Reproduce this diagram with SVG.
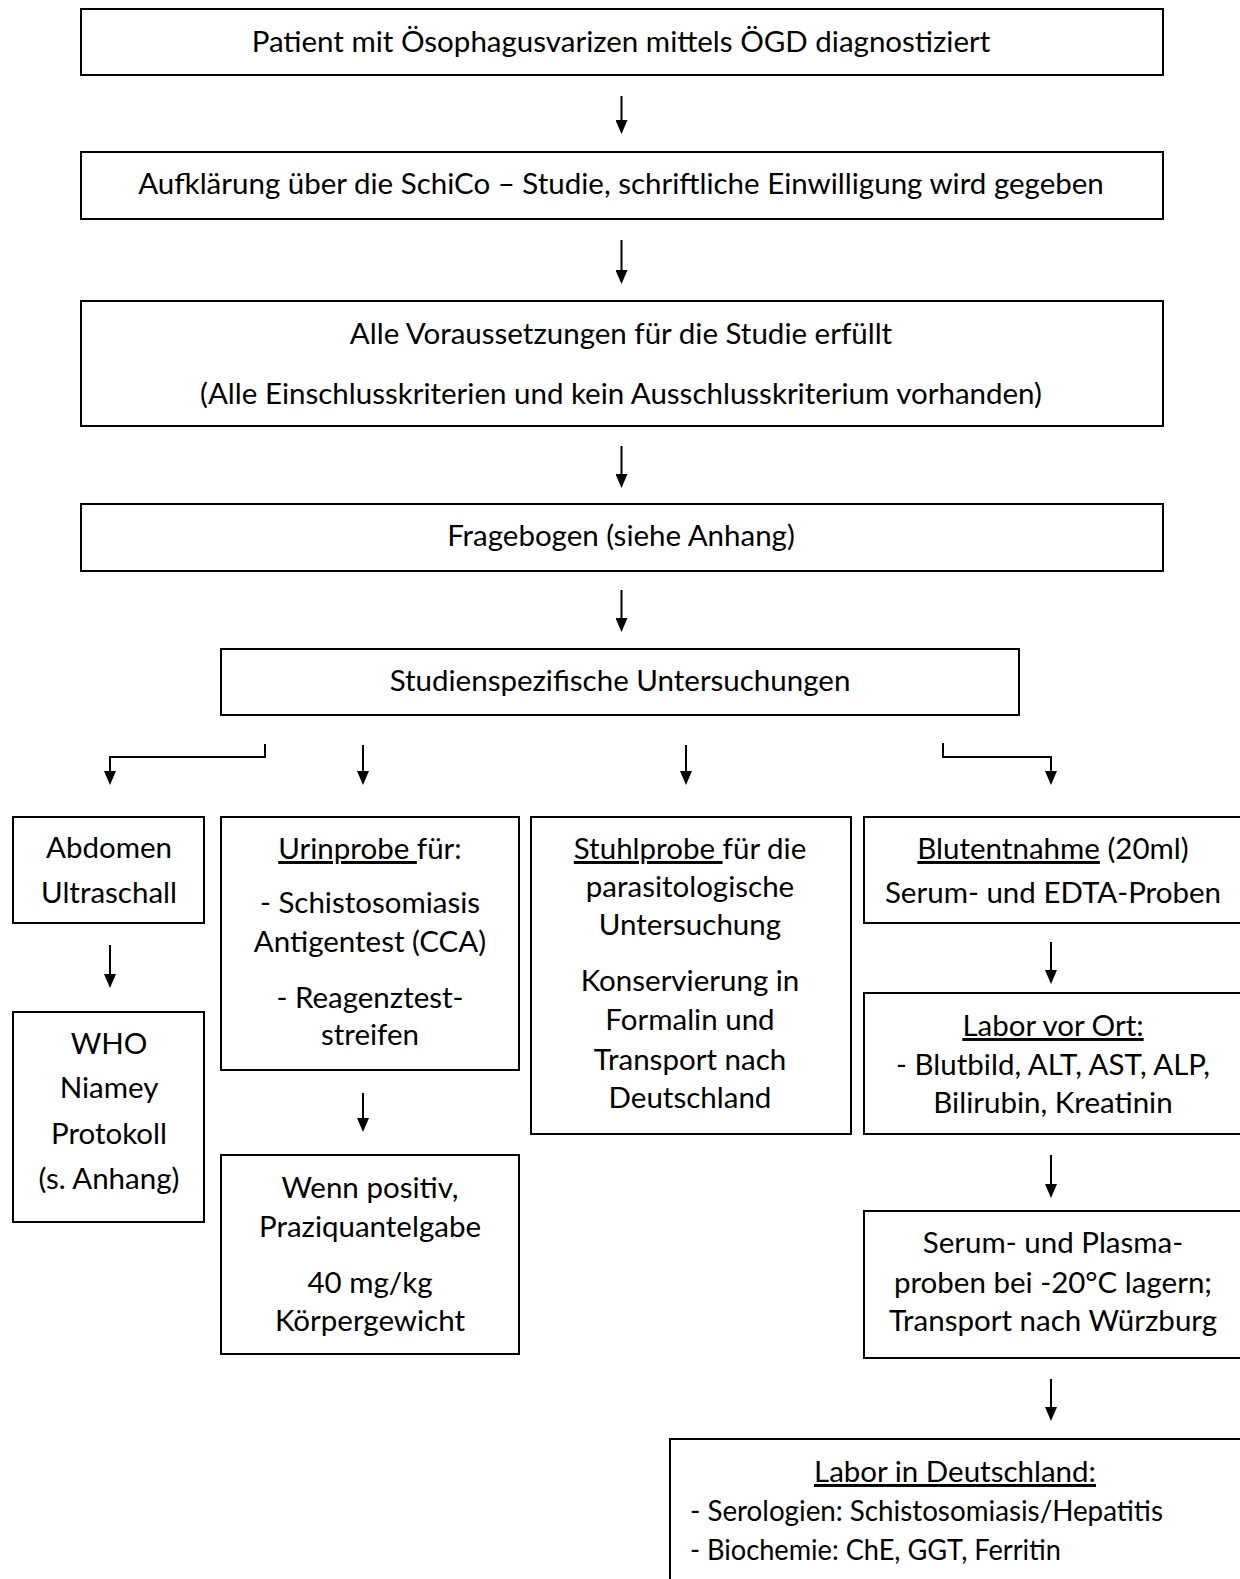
<svg xmlns="http://www.w3.org/2000/svg" width="1240" height="1579" viewBox="0 0 1240 1579">
<defs>
<marker id="ah" markerWidth="14" markerHeight="12" refX="10" refY="6" orient="auto" markerUnits="userSpaceOnUse" viewBox="0 0 14 12">
<path d="M0,0 L14,6 L0,12 Z" fill="#000"/>
</marker>
</defs>
<style>
rect{fill:#fff;stroke:#000;stroke-width:2}
text{font-family:Lato,"Open Sans","Liberation Sans",sans-serif;font-size:29.5px;fill:#000;text-anchor:middle}
.l{text-anchor:start}
.u{text-decoration:underline}
.c{fill:none;stroke:#000;stroke-width:2}
</style>
<rect width="1240" height="1579" fill="#fff" style="stroke:none"/>
<g id="connectors">
<path class="c" d="M621.5,96 V130" marker-end="url(#ah)"/>
<path class="c" d="M621.5,240 V280" marker-end="url(#ah)"/>
<path class="c" d="M621.5,446 V484" marker-end="url(#ah)"/>
<path class="c" d="M621.5,590 V628" marker-end="url(#ah)"/>
<path class="c" d="M265,744 V757 H110 V781" marker-end="url(#ah)"/>
<path class="c" d="M363,745 V781" marker-end="url(#ah)"/>
<path class="c" d="M686,745 V781" marker-end="url(#ah)"/>
<path class="c" d="M943,743 V757 H1051 V781" marker-end="url(#ah)"/>
<path class="c" d="M110,945 V984" marker-end="url(#ah)"/>
<path class="c" d="M363,1093 V1128" marker-end="url(#ah)"/>
<path class="c" d="M1051,942 V980" marker-end="url(#ah)"/>
<path class="c" d="M1051,1155 V1194" marker-end="url(#ah)"/>
<path class="c" d="M1051,1379 V1417" marker-end="url(#ah)"/>
</g>
<g id="n1">
<rect x="81" y="9" width="1082" height="66"/>
<text x="621" y="52">Patient mit Ösophagusvarizen mittels ÖGD diagnostiziert</text>
</g>
<g id="n2">
<rect x="81" y="152" width="1082" height="67"/>
<text x="621" y="194">Aufklärung über die SchiCo – Studie, schriftliche Einwilligung wird gegeben</text>
</g>
<g id="n3">
<rect x="81" y="301" width="1082" height="125"/>
<text x="621" y="344">Alle Voraussetzungen für die Studie erfüllt</text>
<text x="621" y="404">(Alle Einschlusskriterien und kein Ausschlusskriterium vorhanden)</text>
</g>
<g id="n4">
<rect x="81" y="504" width="1082" height="67"/>
<text x="621" y="546">Fragebogen (siehe Anhang)</text>
</g>
<g id="n5">
<rect x="221" y="649" width="798" height="66"/>
<text x="620" y="691">Studienspezifische Untersuchungen</text>
</g>
<g id="n6">
<rect x="13" y="817" width="191" height="106"/>
<text x="109" y="858">Abdomen</text>
<text x="109" y="903">Ultraschall</text>
</g>
<g id="n7">
<rect x="13" y="1012" width="191" height="210"/>
<text x="109" y="1054">WHO</text>
<text x="109" y="1098">Niamey</text>
<text x="109" y="1144">Protokoll</text>
<text x="109" y="1189">(s. Anhang)</text>
</g>
<g id="n8">
<rect x="221" y="817" width="298" height="253"/>
<text x="370" y="859"><tspan class="u">Urinprobe </tspan>für:</text>
<text x="370" y="913">- Schistosomiasis</text>
<text x="370" y="952">Antigentest (CCA)</text>
<text x="370" y="1008">- Reagenztest-</text>
<text x="370" y="1045">streifen</text>
</g>
<g id="n9">
<rect x="221" y="1155" width="298" height="199"/>
<text x="370" y="1198">Wenn positiv,</text>
<text x="370" y="1237">Praziquantelgabe</text>
<text x="370" y="1293">40 mg/kg</text>
<text x="370" y="1331">Körpergewicht</text>
</g>
<g id="n10">
<rect x="531" y="817" width="320" height="317"/>
<text x="690" y="859"><tspan class="u">Stuhlprobe </tspan>für die</text>
<text x="690" y="897">parasitologische</text>
<text x="690" y="935">Untersuchung</text>
<text x="690" y="991">Konservierung in</text>
<text x="690" y="1030">Formalin und</text>
<text x="690" y="1070">Transport nach</text>
<text x="690" y="1108">Deutschland</text>
</g>
<g id="n11">
<rect x="864" y="817" width="390" height="106"/>
<text x="1053" y="859"><tspan class="u">Blutentnahme</tspan> (20ml)</text>
<text x="1053" y="903">Serum- und EDTA-Proben</text>
</g>
<g id="n12">
<rect x="864" y="993" width="390" height="141"/>
<text x="1053" y="1036" class="u">Labor vor Ort:</text>
<text x="1053" y="1075">- Blutbild, ALT, AST, ALP,</text>
<text x="1053" y="1113">Bilirubin, Kreatinin</text>
</g>
<g id="n13">
<rect x="864" y="1211" width="390" height="147"/>
<text x="1053" y="1253">Serum- und Plasma-</text>
<text x="1053" y="1293">proben bei -20°C lagern;</text>
<text x="1053" y="1331">Transport nach Würzburg</text>
</g>
<g id="n14">
<rect x="670" y="1439" width="590" height="160"/>
<text x="955" y="1482" class="u">Labor in Deutschland:</text>
<text x="690" y="1521" class="l" textLength="473" lengthAdjust="spacingAndGlyphs">- Serologien: Schistosomiasis/Hepatitis</text>
<text x="690" y="1560" class="l" textLength="371" lengthAdjust="spacingAndGlyphs">- Biochemie: ChE, GGT, Ferritin</text>
</g>
</svg>
